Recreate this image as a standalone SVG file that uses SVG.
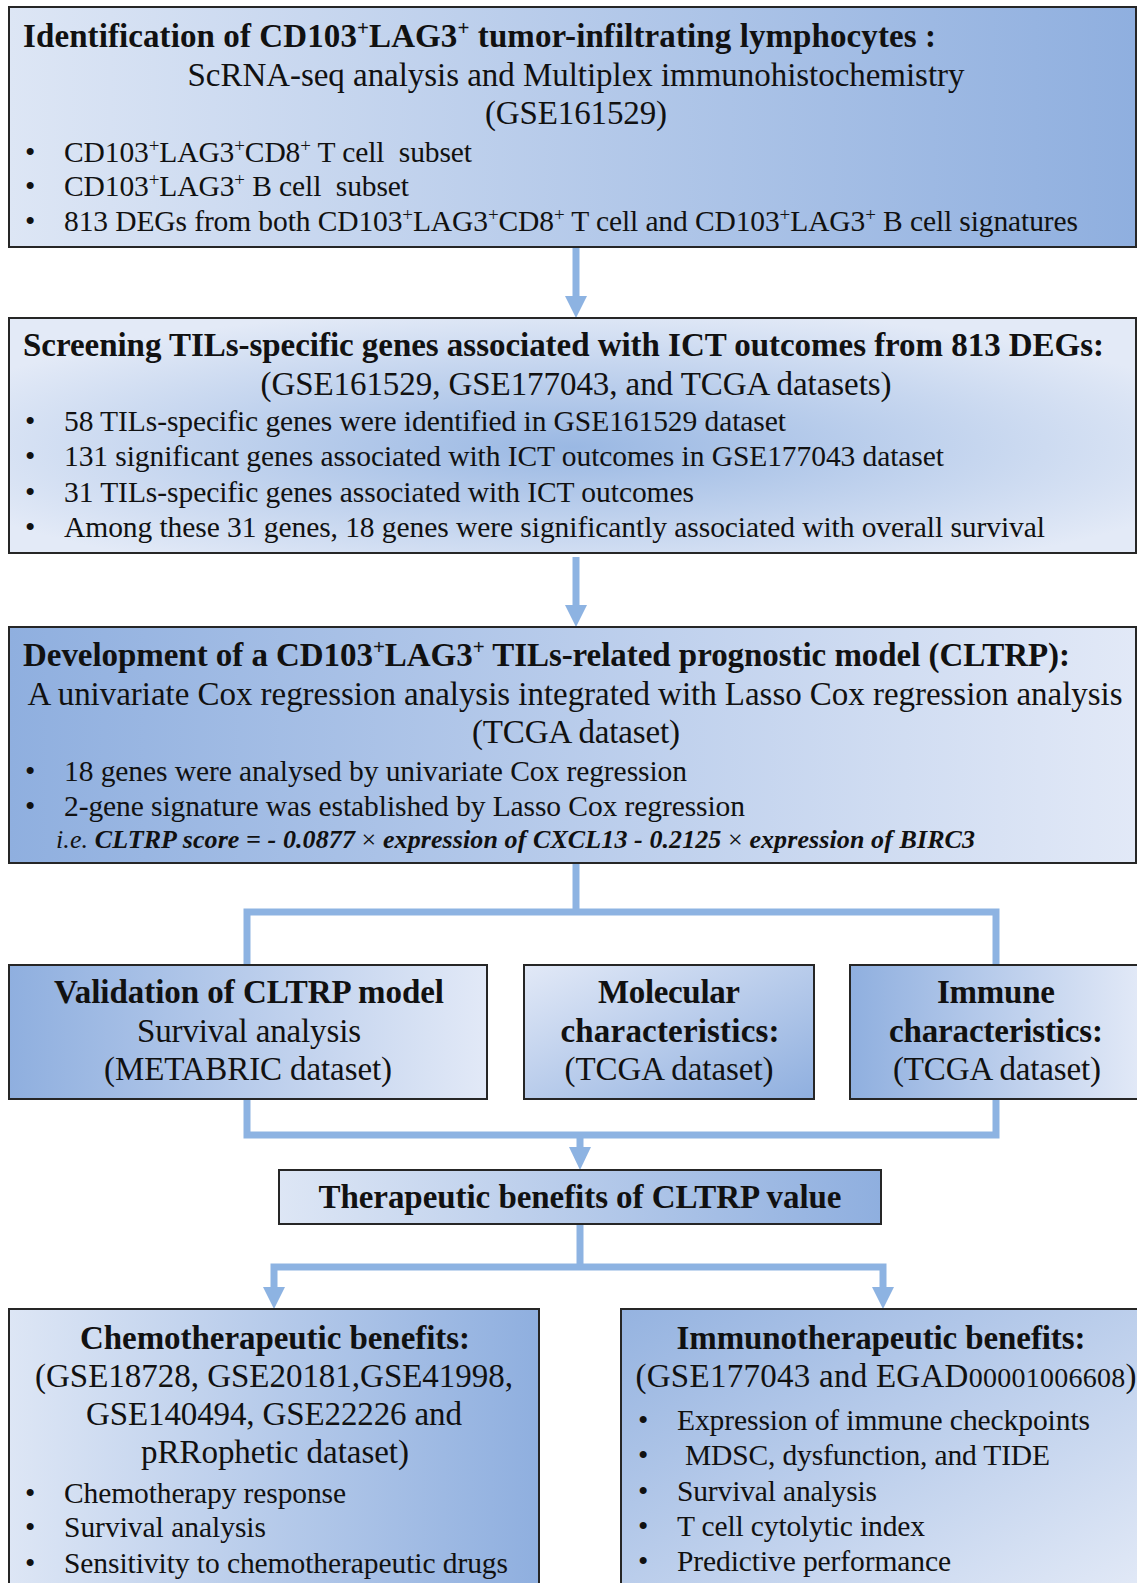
<svg xmlns="http://www.w3.org/2000/svg" width="1137" height="1583" viewBox="0 0 1137 1583">
<style>
.box{stroke:#262626;stroke-width:2}
text{font-family:"Liberation Serif",serif;fill:#111}
.b{font-weight:bold;font-size:33px}
.c{font-size:33px;text-anchor:middle}
.bc{font-weight:bold;font-size:33px;text-anchor:middle}
.l{font-size:29.5px}
.f{font-size:26px;font-style:italic}
.conn{stroke:#8db3e2;stroke-width:7;fill:none}
.head{fill:#8db3e2}
</style>
<defs>
<linearGradient id="gLR" x1="0" y1="0" x2="1" y2="0"><stop offset="0" stop-color="#dde6f5"/><stop offset="1" stop-color="#8fafdf"/></linearGradient>
<linearGradient id="gRL" x1="0" y1="0" x2="1" y2="0"><stop offset="0" stop-color="#8fafdf"/><stop offset="1" stop-color="#e2e9f7"/></linearGradient>
<radialGradient id="gMid" cx="0.5" cy="0.55" r="0.6"><stop offset="0" stop-color="#9ab8e3"/><stop offset="1" stop-color="#e3eaf7"/></radialGradient>
<linearGradient id="gDiag" x1="0" y1="0" x2="1" y2="1"><stop offset="0" stop-color="#e2e9f7"/><stop offset="1" stop-color="#8fafdf"/></linearGradient>
<linearGradient id="gDiagR" x1="0" y1="0" x2="1" y2="1"><stop offset="0" stop-color="#95b3e0"/><stop offset="1" stop-color="#e3eaf7"/></linearGradient>
</defs>

<g id="connectors">
<line class="conn" x1="576" y1="248" x2="576" y2="298"/>
<polygon class="head" points="565,296 587,296 576,318"/>
<line class="conn" x1="576" y1="557" x2="576" y2="607"/>
<polygon class="head" points="565,605 587,605 576,627"/>
<polyline class="conn" points="576,864 576,912"/>
<polyline class="conn" points="247,965 247,912 996,912 996,965"/>
<polyline class="conn" points="247,1100 247,1135 996,1135 996,1100"/>
<line class="conn" x1="580" y1="1135" x2="580" y2="1150"/>
<polygon class="head" points="569,1147 591,1147 580,1170"/>
<line class="conn" x1="580" y1="1225" x2="580" y2="1267"/>
<polyline class="conn" points="274,1289 274,1267 883,1267 883,1289"/>
<polygon class="head" points="263,1287 285,1287 274,1309"/>
<polygon class="head" points="872,1287 894,1287 883,1309"/>
</g>

<g id="node-identification">
<rect class="box" x="9" y="7" width="1127" height="240" fill="url(#gLR)"/>
<text class="b" x="23" y="47" textLength="913">Identification of CD103<tspan font-size="21" dy="-12">+</tspan><tspan dy="12">LAG3</tspan><tspan font-size="21" dy="-12">+</tspan><tspan dy="12"> tumor-infiltrating lymphocytes :</tspan></text>
<text class="c" x="576" y="86" textLength="777">ScRNA-seq analysis and Multiplex immunohistochemistry</text>
<text class="c" x="576" y="124" textLength="182">(GSE161529)</text>
<text class="l" x="25" y="162">•</text>
<text class="l" x="64" y="162" xml:space="preserve" textLength="408">CD103<tspan font-size="19" dy="-10">+</tspan><tspan dy="10">LAG3</tspan><tspan font-size="19" dy="-10">+</tspan><tspan dy="10">CD8</tspan><tspan font-size="19" dy="-10">+</tspan><tspan dy="10"> T cell  subset</tspan></text>
<text class="l" x="25" y="196">•</text>
<text class="l" x="64" y="196" xml:space="preserve" textLength="345">CD103<tspan font-size="19" dy="-10">+</tspan><tspan dy="10">LAG3</tspan><tspan font-size="19" dy="-10">+</tspan><tspan dy="10"> B cell  subset</tspan></text>
<text class="l" x="25" y="231">•</text>
<text class="l" x="64" y="231" textLength="1014">813 DEGs from both CD103<tspan font-size="19" dy="-10">+</tspan><tspan dy="10">LAG3</tspan><tspan font-size="19" dy="-10">+</tspan><tspan dy="10">CD8</tspan><tspan font-size="19" dy="-10">+</tspan><tspan dy="10"> T cell and CD103</tspan><tspan font-size="19" dy="-10">+</tspan><tspan dy="10">LAG3</tspan><tspan font-size="19" dy="-10">+</tspan><tspan dy="10"> B cell signatures</tspan></text>
</g>

<g id="node-screening">
<rect class="box" x="9" y="318" width="1127" height="235" fill="url(#gMid)"/>
<text class="b" x="23" y="356" textLength="1081">Screening TILs-specific genes associated with ICT outcomes from 813 DEGs:</text>
<text class="c" x="576" y="395" textLength="631">(GSE161529, GSE177043, and TCGA datasets)</text>
<text class="l" x="25" y="431">•</text>
<text class="l" x="64" y="431" textLength="722">58 TILs-specific genes were identified in GSE161529 dataset</text>
<text class="l" x="25" y="466">•</text>
<text class="l" x="64" y="466" textLength="880">131 significant genes associated with ICT outcomes in GSE177043 dataset</text>
<text class="l" x="25" y="502">•</text>
<text class="l" x="64" y="502" textLength="630">31 TILs-specific genes associated with ICT outcomes</text>
<text class="l" x="25" y="537">•</text>
<text class="l" x="64" y="537" textLength="981">Among these 31 genes, 18 genes were significantly associated with overall survival</text>
</g>

<g id="node-development">
<rect class="box" x="9" y="627" width="1127" height="236" fill="url(#gRL)"/>
<text class="b" x="23" y="666" textLength="1047">Development of a CD103<tspan font-size="21" dy="-12">+</tspan><tspan dy="12">LAG3</tspan><tspan font-size="21" dy="-12">+</tspan><tspan dy="12"> TILs-related prognostic model (CLTRP):</tspan></text>
<text class="c" x="575" y="705" textLength="1095">A univariate Cox regression analysis integrated with Lasso Cox regression analysis</text>
<text class="c" x="576" y="743" textLength="208">(TCGA dataset)</text>
<text class="l" x="25" y="781">•</text>
<text class="l" x="64" y="781" textLength="623">18 genes were analysed by univariate Cox regression</text>
<text class="l" x="25" y="816">•</text>
<text class="l" x="64" y="816" textLength="681">2-gene signature was established by Lasso Cox regression</text>
<text class="f" x="56" y="848" textLength="919">i.e. <tspan font-weight="bold">CLTRP score = - 0.0877 </tspan><tspan font-style="normal">×</tspan><tspan font-weight="bold"> expression of CXCL13 - 0.2125 </tspan><tspan font-style="normal">×</tspan><tspan font-weight="bold"> expression of BIRC3</tspan></text>
</g>

<g id="node-validation">
<rect class="box" x="9" y="965" width="478" height="134" fill="url(#gRL)"/>
<text class="bc" x="249" y="1003" textLength="390">Validation of CLTRP model</text>
<text class="c" x="249" y="1042" textLength="224">Survival analysis</text>
<text class="c" x="248" y="1080" textLength="288">(METABRIC dataset)</text>
</g>

<g id="node-molecular">
<rect class="box" x="524" y="965" width="290" height="134" fill="url(#gDiag)"/>
<text class="bc" x="669" y="1003" textLength="142">Molecular</text>
<text class="bc" x="670" y="1042" textLength="219">characteristics:</text>
<text class="c" x="669" y="1080" textLength="209">(TCGA dataset)</text>
</g>

<g id="node-immune">
<rect class="box" x="850" y="965" width="290" height="134" fill="url(#gRL)"/>
<text class="bc" x="996" y="1003" textLength="118">Immune</text>
<text class="bc" x="996" y="1042" textLength="214">characteristics:</text>
<text class="c" x="997" y="1080" textLength="208">(TCGA dataset)</text>
</g>

<g id="node-therapeutic">
<rect class="box" x="279" y="1170" width="602" height="54" fill="url(#gLR)"/>
<text class="bc" x="580" y="1208" textLength="523">Therapeutic benefits of CLTRP value</text>
</g>

<g id="node-chemo">
<rect class="box" x="9" y="1309" width="530" height="290" fill="url(#gLR)"/>
<text class="bc" x="275" y="1349" textLength="390">Chemotherapeutic benefits:</text>
<text class="c" x="274" y="1387" textLength="478">(GSE18728, GSE20181,GSE41998,</text>
<text class="c" x="274" y="1425" textLength="376">GSE140494, GSE22226 and</text>
<text class="c" x="275" y="1463" textLength="268">pRRophetic dataset)</text>
<text class="l" x="25" y="1503">•</text>
<text class="l" x="64" y="1503" textLength="282">Chemotherapy response</text>
<text class="l" x="25" y="1537">•</text>
<text class="l" x="64" y="1537" textLength="202">Survival analysis</text>
<text class="l" x="25" y="1573">•</text>
<text class="l" x="64" y="1573" textLength="444">Sensitivity to chemotherapeutic drugs</text>
</g>

<g id="node-immuno">
<rect class="box" x="621" y="1309" width="520" height="290" fill="url(#gDiagR)"/>
<text class="bc" x="881" y="1349" textLength="409">Immunotherapeutic benefits:</text>
<text class="c" x="886" y="1387" textLength="501">(GSE177043 and EGAD<tspan font-size="28">00001006608</tspan>)</text>
<text class="l" x="638" y="1430">•</text>
<text class="l" x="677" y="1430" textLength="413">Expression of immune checkpoints</text>
<text class="l" x="638" y="1465">•</text>
<text class="l" x="685" y="1465" textLength="365">MDSC, dysfunction, and TIDE</text>
<text class="l" x="638" y="1501">•</text>
<text class="l" x="677" y="1501" textLength="200">Survival analysis</text>
<text class="l" x="638" y="1536">•</text>
<text class="l" x="677" y="1536" textLength="248">T cell cytolytic index</text>
<text class="l" x="638" y="1571">•</text>
<text class="l" x="677" y="1571" textLength="274">Predictive performance</text>
</g>
</svg>
